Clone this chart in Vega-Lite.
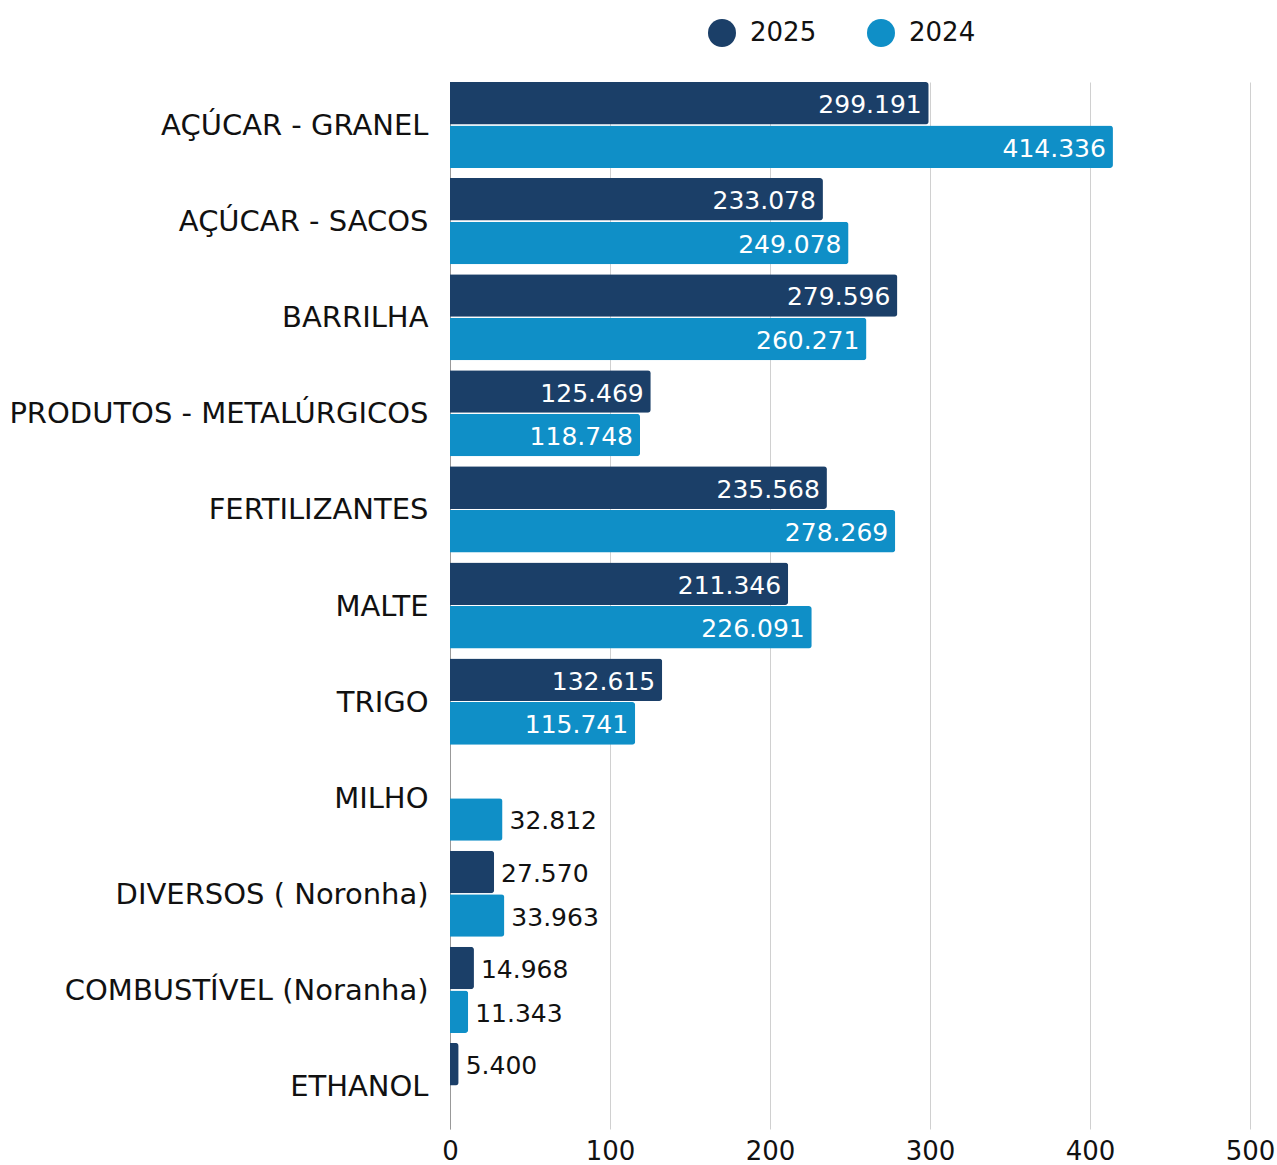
{
  "$schema": "https://vega.github.io/schema/vega-lite/v6.json",
  "width": 800,
  "height": 1047,
  "autosize": {"type": "none"},
  "padding": {"left": 450, "top": 82, "right": 27, "bottom": 36},
  "config": {"font": "DejaVu Sans", "view": {"stroke": null}},
  "data": {
    "values": [
      {"cat": "AÇÚCAR - GRANEL", "ano": "2025", "valor": 299.191},
      {"cat": "AÇÚCAR - GRANEL", "ano": "2024", "valor": 414.336},
      {"cat": "AÇÚCAR - SACOS", "ano": "2025", "valor": 233.078},
      {"cat": "AÇÚCAR - SACOS", "ano": "2024", "valor": 249.078},
      {"cat": "BARRILHA", "ano": "2025", "valor": 279.596},
      {"cat": "BARRILHA", "ano": "2024", "valor": 260.271},
      {"cat": "PRODUTOS - METALÚRGICOS", "ano": "2025", "valor": 125.469},
      {"cat": "PRODUTOS - METALÚRGICOS", "ano": "2024", "valor": 118.748},
      {"cat": "FERTILIZANTES", "ano": "2025", "valor": 235.568},
      {"cat": "FERTILIZANTES", "ano": "2024", "valor": 278.269},
      {"cat": "MALTE", "ano": "2025", "valor": 211.346},
      {"cat": "MALTE", "ano": "2024", "valor": 226.091},
      {"cat": "TRIGO", "ano": "2025", "valor": 132.615},
      {"cat": "TRIGO", "ano": "2024", "valor": 115.741},
      {"cat": "MILHO", "ano": "2024", "valor": 32.812},
      {"cat": "DIVERSOS ( Noronha)", "ano": "2025", "valor": 27.57},
      {"cat": "DIVERSOS ( Noronha)", "ano": "2024", "valor": 33.963},
      {"cat": "COMBUSTÍVEL (Noranha)", "ano": "2025", "valor": 14.968},
      {"cat": "COMBUSTÍVEL (Noranha)", "ano": "2024", "valor": 11.343},
      {"cat": "ETHANOL", "ano": "2025", "valor": 5.4}
    ]
  },
  "encoding": {
    "y": {
      "field": "cat", "type": "nominal", "sort": null,
      "scale": {"paddingInner": 0.104, "paddingOuter": 0},
      "axis": {"title": null, "labelFontSize": 29, "labelPadding": 22, "labelOffset": 1, "ticks": false, "domainColor": "#999999", "labelColor": "#111111", "labelLimit": 0}
    },
    "yOffset": {"field": "ano", "sort": ["2025", "2024"], "scale": {"paddingInner": 0.024}},
    "x": {
      "field": "valor", "type": "quantitative",
      "scale": {"domain": [0, 500], "nice": false},
      "axis": {"title": null, "values": [0, 100, 200, 300, 400, 500], "grid": true, "gridColor": "#d0d0d0", "domain": false, "ticks": false, "labelFontSize": 26, "labelPadding": 9, "labelFlush": false, "labelColor": "#111111"}
    }
  },
  "layer": [
    {
      "mark": {"type": "bar", "cornerRadiusEnd": 3},
      "encoding": {
        "color": {
          "field": "ano", "type": "nominal",
          "scale": {"domain": ["2025", "2024"], "range": ["#1b3f68", "#0f8fc7"]},
          "legend": {"title": null, "orient": "none", "legendX": 258, "legendY": -63, "direction": "horizontal", "symbolType": "circle", "symbolSize": 784, "symbolStrokeWidth": 0, "labelFontSize": 26, "labelColor": "#111111", "labelOffset": 14, "columnPadding": 50}
        }
      }
    },
    {
      "transform": [{"filter": "datum.valor >= 50"}],
      "mark": {"type": "text", "align": "right", "dx": -7, "dy": 2, "color": "white", "fontSize": 25},
      "encoding": {"text": {"field": "valor", "type": "quantitative", "format": ".3f"}}
    },
    {
      "transform": [{"filter": "datum.valor < 50"}],
      "mark": {"type": "text", "align": "left", "dx": 7, "dy": 2, "color": "#111111", "fontSize": 25},
      "encoding": {"text": {"field": "valor", "type": "quantitative", "format": ".3f"}}
    }
  ]
}
